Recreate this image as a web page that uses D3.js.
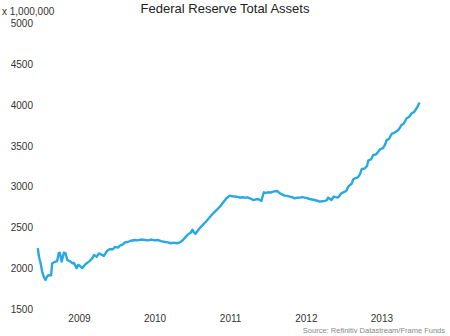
<!DOCTYPE html>
<html>
<head>
<meta charset="utf-8">
<script src="https://cdn.jsdelivr.net/npm/d3@7"></script>
<style>
  body { margin: 0; background: #fff; }
  svg { font-family: "Liberation Sans", Arial, sans-serif; }
  .chart-title { font-size: 13px; fill: #222; text-anchor: middle; }
  .tick-label { font-size: 10px; fill: #333; }
  .source { font-size: 7.5px; fill: #888; text-anchor: end; }
</style>
</head>
<body>
<svg id="chart"></svg>
<script>
// weekly-ish readings of Fed total assets, USD millions / 1,000,000 (trillions x 1000)
var dates = [
  '2008-12-12', '2008-12-18', '2008-12-25', '2009-01-02', '2009-01-10', '2009-01-18',
  '2009-01-23', '2009-01-30', '2009-02-06', '2009-02-14', '2009-02-19', '2009-03-03',
  '2009-03-15', '2009-03-23', '2009-03-28', '2009-04-06', '2009-04-17', '2009-04-25',
  '2009-05-03', '2009-05-19', '2009-05-27', '2009-06-04', '2009-06-17', '2009-06-25',
  '2009-07-07', '2009-07-14', '2009-07-31', '2009-08-16', '2009-09-01', '2009-09-09',
  '2009-09-22', '2009-10-03', '2009-10-19', '2009-10-27', '2009-11-11', '2009-11-25',
  '2009-12-10', '2009-12-19', '2010-01-03', '2010-01-12', '2010-01-27', '2010-02-05',
  '2010-02-20', '2010-03-06', '2010-03-25', '2010-04-09', '2010-04-24', '2010-05-13',
  '2010-05-27', '2010-06-11', '2010-06-30', '2010-07-15', '2010-07-29', '2010-08-18',
  '2010-09-01', '2010-09-16', '2010-09-30', '2010-10-15', '2010-10-29', '2010-11-13',
  '2010-11-22', '2010-12-08', '2010-12-19', '2010-12-29', '2011-01-04', '2011-01-12',
  '2011-01-24', '2011-02-02', '2011-02-17', '2011-03-07', '2011-03-23', '2011-04-08',
  '2011-04-26', '2011-05-10', '2011-05-25', '2011-06-11', '2011-06-27', '2011-07-09',
  '2011-07-21', '2011-08-03', '2011-08-15', '2011-08-27', '2011-09-08', '2011-09-20',
  '2011-10-02', '2011-10-18', '2011-10-31', '2011-11-11', '2011-11-27', '2011-12-04',
  '2011-12-09', '2011-12-18', '2011-12-29', '2012-01-11', '2012-01-22', '2012-02-11',
  '2012-02-24', '2012-03-07', '2012-03-19', '2012-03-31', '2012-04-12', '2012-04-24',
  '2012-05-06', '2012-05-18', '2012-05-30', '2012-06-11', '2012-06-23', '2012-07-05',
  '2012-07-17', '2012-07-29', '2012-08-10', '2012-08-22', '2012-09-03', '2012-09-15',
  '2012-09-27', '2012-10-07', '2012-10-14', '2012-10-22', '2012-10-30', '2012-11-10',
  '2012-11-19', '2012-12-01', '2012-12-09', '2012-12-17', '2013-01-03', '2013-01-11',
  '2013-01-19', '2013-01-28', '2013-02-04', '2013-02-13', '2013-02-21', '2013-03-07',
  '2013-03-17', '2013-03-25', '2013-04-10', '2013-04-20', '2013-04-26', '2013-05-09',
  '2013-05-20', '2013-06-02', '2013-06-12', '2013-06-22', '2013-07-06', '2013-07-16',
  '2013-07-24', '2013-08-04', '2013-08-17', '2013-09-02', '2013-09-18', '2013-09-26',
  '2013-10-04', '2013-10-15', '2013-10-28', '2013-11-09', '2013-11-22', '2013-12-03',
  '2013-12-16', '2013-12-28'
];

var assets = [
  2235, 2130, 2063, 1955, 1890, 1855,
  1885, 1910, 1915, 1912, 2060, 2075,
  2085, 2185, 2190, 2080, 2190, 2180,
  2100, 2080, 2060, 2065, 2000, 2040,
  2020, 2000, 2050, 2080, 2120, 2160,
  2140, 2180, 2160, 2150, 2210, 2235,
  2230, 2260, 2250, 2275, 2290, 2315,
  2320, 2335, 2345, 2340, 2350, 2345,
  2340, 2350, 2340, 2345, 2330, 2320,
  2315, 2305, 2312, 2305, 2315, 2345,
  2370, 2415, 2430, 2470, 2440, 2420,
  2460, 2490, 2530, 2577, 2625, 2671,
  2715, 2752, 2800, 2855, 2888, 2880,
  2876, 2872, 2863, 2868, 2863, 2866,
  2855, 2834, 2842, 2846, 2822, 2890,
  2928, 2920, 2928, 2925, 2936, 2944,
  2916, 2900, 2888, 2885, 2876, 2868,
  2855, 2862, 2863, 2870, 2863, 2858,
  2846, 2840, 2834, 2825, 2814, 2818,
  2822, 2830, 2863, 2850, 2834, 2876,
  2870, 2863, 2890, 2916, 2936, 2950,
  2997, 3018, 3030, 3087, 3099, 3110,
  3150, 3210, 3222, 3250, 3315, 3330,
  3385, 3390, 3420, 3455, 3470, 3510,
  3568, 3580, 3642, 3660, 3690, 3720,
  3752, 3770, 3834, 3850, 3895, 3910,
  3956, 4017
];

var years = [2009, 2010, 2011, 2012, 2013];
var yTicks = [1500, 2000, 2500, 3000, 3500, 4000, 4500, 5000];

var width = 450, height = 336;
var margin = { top: 23, right: 30, bottom: 27, left: 42 };

var svg = d3.select('#chart')
            .attr('width', width)
            .attr('height', height);

var parse = d3.timeParse('%Y-%m-%d');
var series = dates.map((d, i) => ({ date: parse(d), value: assets[i] }));

var x = d3.scaleTime()
          .domain([new Date(2009, 0, 1), new Date(2014, 0, 1)])
          .range([margin.left, width - margin.right]);

var y = d3.scaleLinear()
          .domain([1500, 5000])
          .range([height - margin.bottom, margin.top]);

svg.append('text')
    .classed('chart-title', true)
    .attr('x', width / 2)
    .attr('y', 13)
    .text('Federal Reserve Total Assets');

svg.append('text')
    .classed('tick-label', true)
    .attr('x', 2)
    .attr('y', 15)
    .text('x 1,000,000');

// value labels only, no axis line or ticks
svg.selectAll('.y-label')
    .data(yTicks)
    .enter()
    .append('text')
        .attr('class', 'tick-label y-label')
        .attr('x', 33)
        .attr('y', d => y(d))
        .attr('dy', '0.4em')
        .style('text-anchor', 'end')
        .text(d => d);

// year labels sit in the middle of each year
svg.selectAll('.x-label')
    .data(years)
    .enter()
    .append('text')
        .attr('class', 'tick-label x-label')
        .attr('x', d => x(new Date(d, 6, 1)))
        .attr('y', 321.5)
        .style('text-anchor', 'middle')
        .text(d => d);

var line = d3.line()
             .x(d => x(d.date))
             .y(d => y(d.value));

svg.append('path')
    .datum(series)
    .attr('d', line)
    .attr('fill', 'none')
    .attr('stroke', '#29a9e1')
    .attr('stroke-width', 2.4)
    .attr('stroke-linejoin', 'round')
    .attr('stroke-linecap', 'round');

svg.append('text')
    .classed('source', true)
    .attr('x', 445)
    .attr('y', 333)
    .text('Source: Refinitiv Datastream/Frame Funds');
</script>
</body>
</html>
